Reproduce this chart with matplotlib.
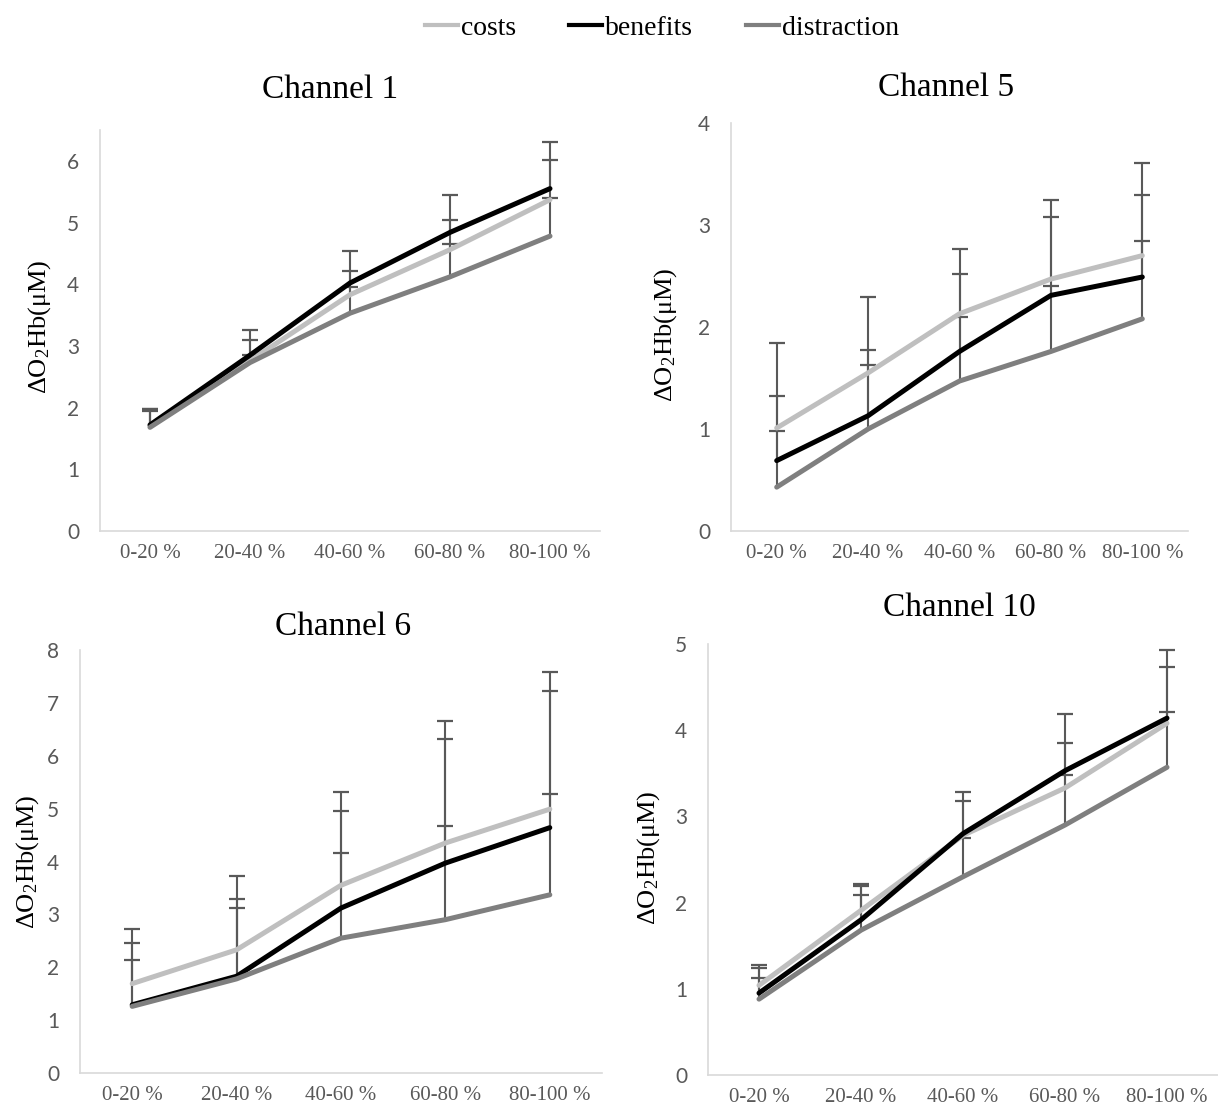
import matplotlib

matplotlib.use("Agg")
import matplotlib.pyplot as plt
import numpy as np
from matplotlib.lines import Line2D

W, H = 1218, 1109
SERIF = "Liberation Serif"
plt.rcParams["mathtext.fontset"] = "custom"
plt.rcParams["mathtext.rm"] = SERIF
plt.rcParams["mathtext.it"] = SERIF + ":italic"
plt.rcParams["mathtext.default"] = "rm"

CATEGORIES = ["0-20 %", "20-40 %", "40-60 %", "60-80 %", "80-100 %"]
SERIES = ("costs", "benefits", "distraction")
COLORS = {"costs": "#BFBFBF", "benefits": "#000000", "distraction": "#7F7F7F"}
ERR_COLOR = "#595959"
TICK_COLOR = "#595959"
SPINE_COLOR = "#D9D9D9"

# Channel 1: means and upper ends of the (plus-only) error bars
ch1_costs = [1.70, 2.76, 3.83, 4.56, 5.37]
ch1_benefits = [1.72, 2.85, 4.02, 4.84, 5.55]
ch1_distraction = [1.68, 2.73, 3.53, 4.12, 4.78]
ch1_costs_upper = [1.97, 3.10, 4.22, 5.04, 6.01]
ch1_benefits_upper = [1.98, 3.25, 4.54, 5.44, 6.30]
ch1_distraction_upper = [1.95, 2.85, 3.95, 4.65, 5.39]

# Channel 5
ch5_costs = [1.01, 1.55, 2.13, 2.47, 2.70]
ch5_benefits = [0.69, 1.13, 1.76, 2.31, 2.49]
ch5_distraction = [0.43, 1.00, 1.47, 1.76, 2.08]
ch5_costs_upper = [1.84, 2.29, 2.76, 3.25, 3.61]
ch5_benefits_upper = [1.32, 1.77, 2.52, 3.08, 3.29]
ch5_distraction_upper = [0.98, 1.63, 2.10, 2.40, 2.84]

# Channel 6
ch6_costs = [1.69, 2.33, 3.55, 4.35, 4.99]
ch6_benefits = [1.29, 1.83, 3.12, 3.97, 4.64]
ch6_distraction = [1.26, 1.78, 2.55, 2.90, 3.37]
ch6_costs_upper = [2.73, 3.72, 5.31, 6.65, 7.59]
ch6_benefits_upper = [2.46, 3.29, 4.96, 6.31, 7.23]
ch6_distraction_upper = [2.14, 3.12, 4.16, 4.68, 5.27]

# Channel 10
ch10_costs = [1.04, 1.91, 2.78, 3.33, 4.08]
ch10_benefits = [0.95, 1.80, 2.80, 3.53, 4.14]
ch10_distraction = [0.88, 1.68, 2.30, 2.90, 3.57]
ch10_costs_upper = [1.24, 2.19, 3.18, 3.85, 4.73]
ch10_benefits_upper = [1.28, 2.22, 3.28, 4.19, 4.93]
ch10_distraction_upper = [1.12, 2.09, 2.75, 3.48, 4.21]

TITLES = ["Channel 1", "Channel 5", "Channel 6", "Channel 10"]
Y_MAX = [6.5, 4, 8, 5]
Y_TICKS = [range(0, 7), range(0, 5), range(0, 9), range(0, 6)]

panels = [
    ((ch1_costs, ch1_costs_upper), (ch1_benefits, ch1_benefits_upper), (ch1_distraction, ch1_distraction_upper)),
    ((ch5_costs, ch5_costs_upper), (ch5_benefits, ch5_benefits_upper), (ch5_distraction, ch5_distraction_upper)),
    ((ch6_costs, ch6_costs_upper), (ch6_benefits, ch6_benefits_upper), (ch6_distraction, ch6_distraction_upper)),
    ((ch10_costs, ch10_costs_upper), (ch10_benefits, ch10_benefits_upper), (ch10_distraction, ch10_distraction_upper)),
]

# layout in image pixels: (left, top, right, bottom) of each plot area
boxes_px = [(100, 130, 600, 531), (731, 123, 1188, 531), (80, 650, 602, 1073), (708, 644, 1218, 1075)]
title_px = [(330, 90), (946, 88), (343, 627), (959, 608)]
ylabel_px = [(40, 327), (666, 335), (28, 862), (649, 858)]


def px_box(left, top, right, bottom):
    return [left / W, 1 - bottom / H, (right - left) / W, (bottom - top) / H]


fig = plt.figure(figsize=(W / 100, H / 100), dpi=100)
x = np.arange(len(CATEGORIES))

for idx, panel in enumerate(panels):
    ax = fig.add_axes(px_box(*boxes_px[idx]))
    # plus-only error bars: stem from the mean up to the cap
    for name, (means, upper) in zip(SERIES, panel):
        ax.vlines(x, means, upper, color=ERR_COLOR, linewidth=1.5, zorder=2)
        ax.plot(x, upper, linestyle="none", marker="_", markersize=11, markeredgewidth=1.6,
                color=ERR_COLOR, zorder=2)
    for name, (means, upper) in zip(SERIES, panel):
        ax.plot(x, means, color=COLORS[name], linewidth=3.6, solid_joinstyle="round",
                solid_capstyle="round", zorder=3)

    ax.set_xlim(-0.5, len(CATEGORIES) - 0.5)
    ax.set_ylim(0, Y_MAX[idx])
    ax.set_yticks(list(Y_TICKS[idx]))
    ax.set_xticks(x)
    ax.set_xticklabels(CATEGORIES, fontfamily=SERIF, fontsize=15, color=TICK_COLOR)
    for lbl in ax.get_yticklabels():
        lbl.set_fontfamily("Lato")
        lbl.set_fontsize(15)
        lbl.set_color(TICK_COLOR)
    ax.tick_params(axis="both", length=0)
    ax.tick_params(axis="y", pad=15)
    ax.tick_params(axis="x", pad=9)
    for side in ("top", "right"):
        ax.spines[side].set_visible(False)
    for side in ("left", "bottom"):
        ax.spines[side].set_color(SPINE_COLOR)
        ax.spines[side].set_linewidth(1.2)

    tx, ty = title_px[idx]
    fig.text(tx / W, 1 - ty / H, TITLES[idx], fontfamily=SERIF, fontsize=24, ha="center", va="center")
    lx, ly = ylabel_px[idx]
    fig.text(lx / W, 1 - ly / H, r"ΔO$_2$Hb(μM)", fontfamily=SERIF, fontsize=19, rotation=90,
             ha="center", va="center")

handles = [Line2D([], [], color=COLORS[name], linewidth=3) for name in SERIES]
fig.legend(handles, SERIES, loc="center", bbox_to_anchor=(662 / W, 1 - 28 / H), ncol=3, frameon=False,
           prop={"family": SERIF, "size": 20}, handlelength=1.2, handletextpad=0.1, columnspacing=1.9)

fig.savefig("out.png", dpi=100)
